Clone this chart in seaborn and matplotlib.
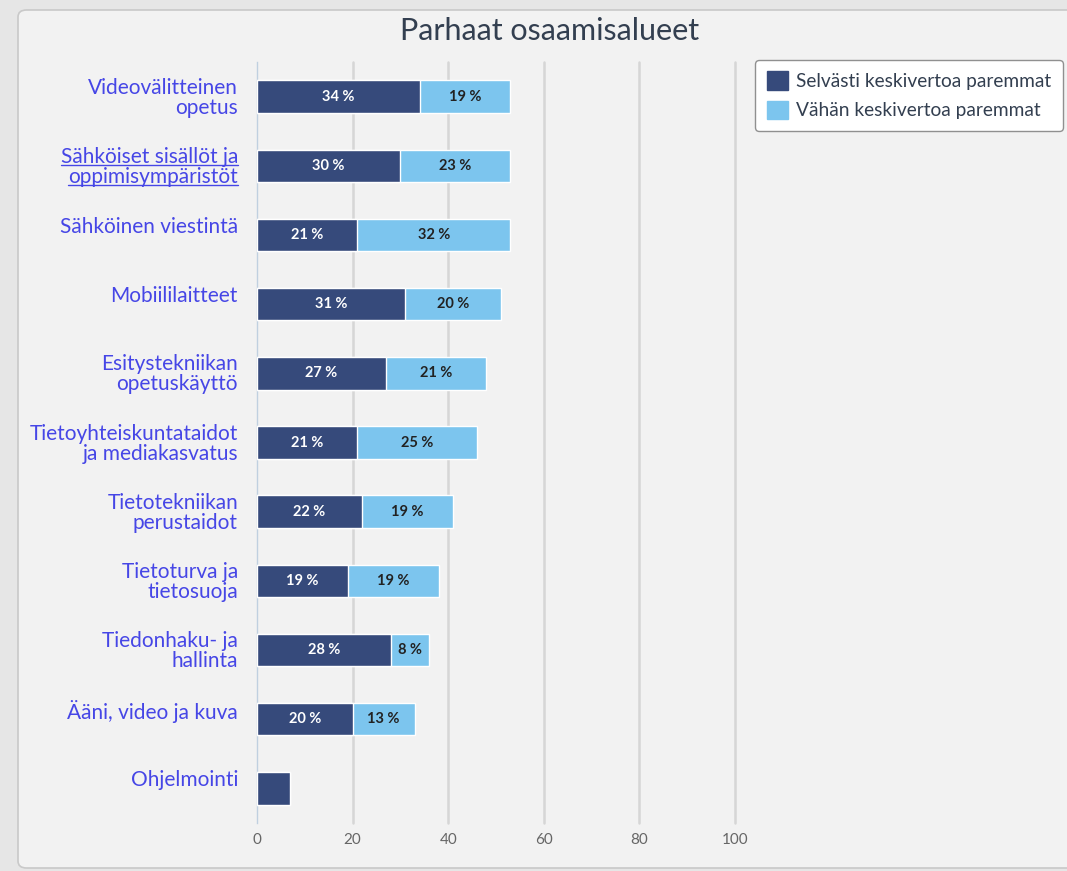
import pandas as pd
import matplotlib.pyplot as plt
import seaborn as sns
from matplotlib.patches import FancyBboxPatch, Patch
from matplotlib.lines import Line2D

# Data
alueet = [
    "Videovälitteinen\nopetus",
    "Sähköiset sisällöt ja\noppimisympäristöt",
    "Sähköinen viestintä",
    "Mobiililaitteet",
    "Esitystekniikan\nopetuskäyttö",
    "Tietoyhteiskuntataidot\nja mediakasvatus",
    "Tietotekniikan\nperustaidot",
    "Tietoturva ja\ntietosuoja",
    "Tiedonhaku- ja\nhallinta",
    "Ääni, video ja kuva",
    "Ohjelmointi",
]
selvasti = [34, 30, 21, 31, 27, 21, 22, 19, 28, 20, 7]
vahan = [19, 23, 32, 20, 21, 25, 19, 19, 8, 13, 0]
x_ticks = [0, 20, 40, 60, 80, 100]

dark = "#364a7b"
light = "#7cc5ee"
label_col = "#4646e6"
text_col = "#333f50"

df = pd.DataFrame({"alue": alueet, "selvasti": selvasti, "vahan": vahan})
df["yhteensa"] = df["selvasti"] + df["vahan"]

sns.set_style("white")
plt.rcParams["font.family"] = ["Lato", "DejaVu Sans"]

fig = plt.figure(figsize=(10.67, 8.71), dpi=100)
fig.patch.set_facecolor("#e6e6e6")
panel = FancyBboxPatch((18 / 1067, 3 / 871), 1.1, 858 / 871, boxstyle="round,pad=0,rounding_size=0.008",
                       transform=fig.transFigure, facecolor="#f2f2f2", edgecolor="#c9c9c9",
                       linewidth=1.2, zorder=-10)
fig.patches.append(panel)

ax = fig.add_axes([257 / 1067, 1 - 823 / 871, (735 - 257) / 1067, (823 - 62) / 871])
ax.set_facecolor("none")

# Stacked bars: total (light) then dark segment on top
sns.barplot(data=df, y="alue", x="yhteensa", color=light, saturation=1, width=0.47,
            orient="h", edgecolor="white", linewidth=1, ax=ax, zorder=3)
sns.barplot(data=df, y="alue", x="selvasti", color=dark, saturation=1, width=0.47,
            orient="h", edgecolor="white", linewidth=1, ax=ax, zorder=4)

# Value labels
for i, row in df.iterrows():
    if row["selvasti"] >= 8:
        ax.text(row["selvasti"] / 2, i, f"{row['selvasti']} %", ha="center", va="center",
                color="white", fontsize=10.5, fontweight="bold", zorder=5)
    if row["vahan"] >= 8:
        ax.text(row["selvasti"] + row["vahan"] / 2, i, f"{row['vahan']} %", ha="center", va="center",
                color="#222222", fontsize=10.5, fontweight="bold", zorder=5)

ax.set_xlim(0, 100)
ax.set_ylim(len(alueet) - 0.5, -0.5)
ax.set_xticks(x_ticks)
ax.set_xticklabels([str(t) for t in x_ticks], color="#666666", fontsize=11)
ax.tick_params(axis="x", length=0, pad=7)
ax.set_yticks(range(len(alueet)))
ax.set_yticklabels([])
ax.tick_params(axis="y", length=0)
ax.set_yticks([i - 0.5 for i in range(len(alueet) + 1)], minor=True)
ax.tick_params(axis="y", which="minor", length=6, color="#c0d0e0", width=1)
ax.set_xlabel("")
ax.set_ylabel("")
for t in x_ticks[1:]:
    ax.axvline(t, color="#d6d6d6", linewidth=1.8, zorder=1, clip_on=False)
for s in ["top", "right", "bottom"]:
    ax.spines[s].set_visible(False)
ax.spines["left"].set_color("#c0d0e0")
ax.spines["left"].set_linewidth(1)

# Category labels (single-line ones sit a little above the bar centre)
labels = []
for i, name in enumerate(alueet):
    dy = 8 if "\n" not in name else -1
    lab = ax.annotate(name, xy=(0, i), xycoords=("axes fraction", "data"),
                      xytext=(-19, dy), textcoords="offset pixels", ha="right", va="center",
                      color=label_col, fontsize=15, linespacing=1.0)
    labels.append(lab)

fig.text(550 / 1067, 1 - 31 / 871, "Parhaat osaamisalueet", ha="center", va="center",
         fontsize=22, color=text_col)

handles = [Patch(facecolor=dark, edgecolor=dark, label="Selvästi keskivertoa paremmat"),
           Patch(facecolor=light, edgecolor=light, label="Vähän keskivertoa paremmat")]
leg = fig.legend(handles=handles, loc="upper left", bbox_to_anchor=(755 / 1067, 1 - 60 / 871),
                 borderaxespad=0, frameon=True, fontsize=13.8, handlelength=1.1, handleheight=1.1,
                 handletextpad=0.45, labelspacing=0.55, borderpad=0.6, fancybox=True, shadow=False)
leg.get_frame().set_facecolor("white")
leg.get_frame().set_edgecolor("#909090")
leg.get_frame().set_alpha(1)
for t in leg.get_texts():
    t.set_color(text_col)

# Underline for the linked label
fig.canvas.draw()
renderer = fig.canvas.get_renderer()
lab = labels[1]
bb = lab.get_window_extent(renderer)
lines = lab.get_text().split("\n")
h = bb.height / len(lines)
for k, line in enumerate(lines):
    tmp = fig.text(0, 0, line, fontsize=15)
    w = tmp.get_window_extent(renderer).width
    tmp.remove()
    y = bb.y1 - (k + 1) * h + 2
    fig.add_artist(Line2D([(bb.x1 - w) / fig.bbox.width, bb.x1 / fig.bbox.width],
                          [y / fig.bbox.height, y / fig.bbox.height],
                          transform=fig.transFigure, color=label_col, linewidth=1))

fig.savefig("out.png", dpi=100, facecolor=fig.get_facecolor())
